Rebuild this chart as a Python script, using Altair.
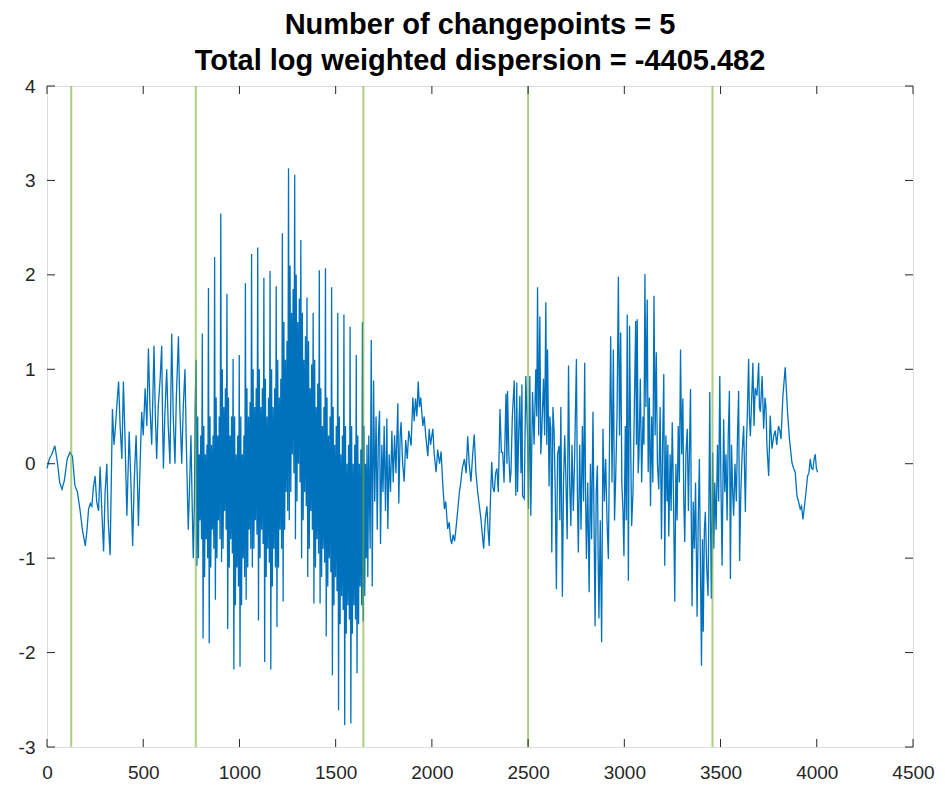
import altair as alt
import pandas as pd

title_lines = ["Number of changepoints = 5", "Total log weighted dispersion = -4405.482"]
changepoints = [126, 773, 1644, 2500, 3458]
x_ticks = [0, 500, 1000, 1500, 2000, 2500, 3000, 3500, 4000, 4500]
y_ticks = [-3, -2, -1, 0, 1, 2, 3, 4]

# segment A: quiet start (turning points)
seg_a_x = [0, 12, 25, 41, 55, 66, 78, 90, 105, 119, 132, 145, 158, 171, 184, 199, 208, 216, 225, 233,
           241, 250, 258, 268, 276, 285, 294, 302, 311, 318, 328, 340, 348, 356, 364, 372, 380, 389, 397, 405,
           415, 427, 436, 445, 453, 463, 470, 475, 484, 492, 500, 510, 519, 527, 535, 544, 550, 556, 563, 570,
           578, 588, 596, 601, 605, 612, 622, 630, 639, 644, 648, 656, 665, 672, 683, 690, 700, 708, 717, 724,
           734, 740, 748, 755, 760, 766, 770]
seg_a_y = [-0.05, 0.05, 0.1, 0.19, 0.0, -0.2, -0.27, -0.18, 0.05, 0.12, 0.08, -0.23, -0.3, -0.48, -0.7, -0.87, -0.7, -0.48, -0.42, -0.45,
           -0.25, -0.13, -0.4, -0.5, -0.03, -0.5, -0.93, -0.3, 0.0, -0.6, -0.97, 0.58, 0.2, 0.4, 0.65, 0.87, 0.4, 0.05, 0.87, 0.3,
           -0.55, 0.34, -0.2, -0.87, -0.2, 0.3, -0.2, -0.66, 0.0, 0.55, 0.3, 0.8, 0.4, 1.22, 0.6, 0.2, 0.7, 1.25, 0.5, 0.05,
           0.6, 0.9, 1.25, 0.4, -0.05, 0.5, 1.0, 0.4, 0.0, 0.8, 1.38, 0.5, 0.0, 0.7, 1.35, 0.6, 0.0, 0.6, 1.0, 0.2,
           -0.7, -0.3, 0.3, -0.5, -1.0, -0.4, 0.6]

# segment B: dense part, regularly sampled (8 samples per spike cycle)
dense_start = 775
dense_step = 4
dense_y = [
    1.1, -1.08, 0.5, -1.0, 0.1, -0.6, 0.3, -0.8,
    1.38, -1.85, 0.4, -1.2, 0.1, -0.8, 0.2, -1.0,
    1.86, -1.9, 0.5, -1.1, 0.2, -0.7, 0.3, -0.9,
    2.19, -1.44, 0.7, -1.0, 0.3, -0.6, 0.5, -0.8,
    2.65, -1.04, 1.0, -0.9, 0.6, -0.5, 0.8, -0.7,
    1.80, -1.75, 0.7, -1.1, 0.3, -0.8, 0.5, -0.95,
    1.11, -2.18, 0.5, -1.5, 0.1, -1.1, 0.3, -1.3,
    1.15, -2.15, 0.5, -1.5, 0.1, -1.0, 0.3, -1.2,
    1.91, -1.44, 0.8, -1.1, 0.5, -0.7, 0.65, -0.9,
    2.22, -1.1, 1.0, -0.9, 0.6, -0.6, 0.8, -0.75,
    2.29, -1.66, 1.0, -1.0, 0.6, -0.7, 0.8, -0.85,
    1.97, -2.1, 0.9, -1.2, 0.5, -0.9, 0.7, -1.05,
    2.04, -2.18, 1.0, -1.3, 0.6, -0.9, 0.8, -1.1,
    1.88, -1.73, 1.1, -1.1, 0.7, -0.7, 0.9, -0.9,
    2.44, -1.46, 1.5, -0.7, 1.1, -0.3, 1.3, -0.5,
    3.13, -0.6, 2.1, -0.3, 1.6, 0.1, 1.85, -0.1,
    3.06, -0.8, 2.0, -0.4, 1.5, 0.0, 1.75, -0.2,
    2.37, -1.0, 1.6, -0.6, 1.1, -0.3, 1.35, -0.45,
    1.76, -1.2, 1.3, -0.9, 0.8, -0.5, 1.05, -0.7,
    1.6, -1.48, 1.1, -1.1, 0.6, -0.8, 0.85, -0.95,
    2.05, -1.48, 0.8, -1.2, 0.4, -0.9, 0.6, -1.05,
    2.07, -1.83, 0.7, -1.3, 0.3, -1.0, 0.5, -1.15,
    1.87, -2.24, 0.6, -1.5, 0.2, -1.2, 0.4, -1.35,
    1.6, -2.61, 0.5, -1.7, 0.1, -1.4, 0.3, -1.55,
    1.58, -2.77, 0.4, -1.8, 0.0, -1.5, 0.2, -1.65,
    1.45, -2.75, 0.4, -1.8, 0.0, -1.5, 0.2, -1.65,
    1.15, -2.22, 0.3, -1.7, 0.0, -1.3, 0.15, -1.5,
    1.5, -1.67, 0.4, -1.4, 0.0, -1.0, 0.2, -1.2,
]

# segment C: rest of the signal (turning points)
seg_c_x = [1672, 1679, 1685, 1690, 1697, 1703, 1710, 1716, 1722, 1728, 1733, 1740, 1746, 1752, 1759, 1766, 1771, 1778, 1785, 1792,
           1799, 1806, 1813, 1823, 1828, 1835, 1840, 1848, 1856, 1864, 1872, 1880, 1892, 1901, 1908, 1915, 1922, 1929, 1935, 1942,
           1953, 1960, 1968, 1979, 1986, 1993, 2005, 2012, 2022, 2030, 2040, 2048, 2056, 2065, 2072, 2082, 2090, 2097, 2103, 2110,
           2118, 2125, 2134, 2143, 2150, 2158, 2169, 2178, 2186, 2194, 2203, 2212, 2220, 2229, 2238, 2247, 2255, 2262, 2269, 2277,
           2286, 2292, 2298, 2304, 2311, 2317, 2324, 2331, 2338, 2345, 2354, 2361, 2368, 2375, 2385, 2390, 2393, 2400, 2406, 2411,
           2418, 2428, 2436, 2441, 2445, 2452, 2457, 2463, 2468, 2471, 2480, 2488, 2497, 2502, 2509, 2514, 2523, 2531, 2540, 2545,
           2549, 2555, 2561, 2566, 2571, 2580, 2586, 2592, 2597, 2601, 2609, 2613, 2618, 2623, 2629, 2635, 2641, 2647, 2653, 2661,
           2665, 2670, 2678, 2684, 2690, 2696, 2703, 2710, 2716, 2722, 2728, 2735, 2742, 2751, 2756, 2761, 2768, 2775, 2782, 2788,
           2794, 2798, 2803, 2810, 2817, 2824, 2830, 2837, 2842, 2848, 2854, 2860, 2864, 2868, 2875, 2882, 2889, 2896, 2903, 2910,
           2917, 2923, 2929, 2936, 2943, 2949, 2955, 2962, 2969, 2975, 2981, 2987, 2993, 2998, 3005, 3010, 3015, 3021, 3027, 3033,
           3038, 3045, 3052, 3059, 3063, 3067, 3072, 3076, 3083, 3090, 3097, 3102, 3107, 3112, 3119, 3124, 3130, 3136, 3142, 3148,
           3154, 3160, 3166, 3172, 3179, 3186, 3193, 3199, 3205, 3210, 3216, 3222, 3226, 3231, 3238, 3243, 3249, 3255, 3262, 3268,
           3274, 3280, 3286, 3292, 3298, 3304, 3309, 3314, 3320, 3327, 3333, 3338, 3344, 3348, 3352, 3358, 3364, 3370, 3378, 3384,
           3390, 3395, 3401, 3406, 3410, 3416, 3421, 3428, 3435, 3440, 3444, 3448, 3452, 3459, 3465, 3470, 3477, 3484, 3490, 3496,
           3502, 3508, 3516, 3522, 3528, 3534, 3540, 3546, 3551, 3557, 3563, 3568, 3575, 3582, 3588, 3594, 3599, 3605, 3612, 3620,
           3629, 3634, 3638, 3646, 3650, 3655, 3662, 3668, 3674, 3680, 3689, 3698, 3702, 3707, 3716, 3724, 3731, 3736, 3741, 3750,
           3758, 3767, 3776, 3784, 3792, 3801, 3808, 3814, 3824, 3836, 3848, 3858, 3871, 3880, 3888, 3897, 3905, 3914, 3921, 3928,
           3936, 3944, 3952, 3959, 3966, 3973, 3980, 3986, 3992, 3998, 4004]
seg_c_y = [0.3, -0.9, 1.31, -1.3, 0.88, -0.4, 0.5, -0.7, 0.3, 0.56, -0.85, 0.2, -0.3, 0.4, -0.5, 0.48, -0.69, 0.1, -0.3, 0.35,
           -0.2, 0.3, -0.1, 0.64, -0.42, 0.3, 0.44, 0.0, -0.19, 0.25, 0.05, 0.35, 0.19, 0.7, 0.45, 0.69, 0.5, 0.87, 0.6, 0.7,
           0.4, 0.5, 0.3, 0.08, 0.37, 0.2, 0.37, 0.1, -0.09, 0.15, 0.0, 0.13, -0.2, -0.48, -0.4, -0.69, -0.62, -0.8, -0.85, -0.75,
           -0.82, -0.69, -0.5, -0.3, -0.2, -0.05, 0.05, -0.1, 0.29, 0.0, -0.19, 0.1, 0.31, -0.1, -0.3, -0.45, -0.59, -0.75, -0.9, -0.6,
           -0.45, -0.7, -0.87, -0.4, 0.02, -0.25, -0.3, -0.1, -0.05, -0.3, 0.58, 0.12, 0.12, -0.2, 0.74, 0.0, 0.77, 0.1, -0.2, -0.09,
           0.5, 0.88, -0.34, 0.86, -0.3, 0.4, 0.72, -0.1, 0.84, -0.34, -0.37, 0.93, 0.29, -0.48, 0.93, -0.55, 0.76, 0.2, 1.0, 0.5,
           1.87, 0.3, 1.56, 0.1, 0.34, 0.9, 0.3, 1.71, 0.2, 1.21, -0.24, 0.5, 0.37, -0.94, 0.6, 0.34, -0.3, -1.33, 0.1, 0.19,
           -0.6, 0.6, -1.41, -0.2, 0.3, -0.13, -0.8, 1.04, -0.2, -0.66, 0.2, -0.5, 0.1, 1.11, -0.3, -0.94, 0.2, -0.7, 0.4, -0.4,
           1.07, -0.2, -1.01, -0.2, -1.36, 0.0, -0.8, 0.55, -0.5, -1.72, -0.3, -0.02, -1.0, -1.64, -0.6, -1.89, 0.37, -0.4, 0.05, -0.6,
           -1.01, 0.2, 1.35, -0.2, 1.21, -0.6, -0.16, 0.5, 1.98, 0.3, 1.39, -0.2, -0.51, -0.98, 0.4, -0.6, 1.58, -1.24, 1.46, 0.2,
           -0.66, -0.3, 0.6, 1.51, 0.2, 1.53, -0.1, 0.08, 0.9, -0.2, 0.5, 0.2, 2.01, 0.6, 1.74, -0.09, 0.7, -0.45, 0.5, -0.2,
           1.78, 0.3, 1.18, 0.0, -0.27, 0.6, -0.8, 0.2, 0.95, -1.08, 0.3, -0.4, 0.2, -0.77, 0.1, -0.5, 0.44, -0.3, -1.46, 0.0,
           -0.6, 0.4, -0.2, 1.21, 0.1, 0.69, -0.4, -0.83, 0.1, 0.37, -0.5, 0.1, 0.79, -0.6, -1.51, -0.4, -0.9, -0.2, -1.62, -0.6,
           0.05, -1.0, -2.14, -0.8, -1.78, -0.7, -0.51, -1.1, -1.4, -0.3, 0.76, -0.6, -1.43, 0.12, -0.9, -0.2, -0.7, 0.2, -0.4, 0.93,
           -0.2, -1.08, 0.47, -0.3, 0.1, -0.6, 0.3, 0.77, -1.22, 0.2, -0.3, -0.55, 0.0, -0.4, 0.3, 0.77, -1.03, -0.34, 0.1, 0.4,
           -0.51, 0.2, 0.44, 1.11, 0.5, 0.29, 0.7, 1.07, 0.4, 0.8, 0.72, 1.07, 0.6, 0.55, 0.93, 0.37, 0.7, 0.6, 0.19, -0.13,
           0.51, 0.16, 0.29, 0.35, 0.2, 0.4, 0.35, 0.26, 0.72, 1.02, 0.55, 0.26, 0.01, -0.05, -0.09, -0.34, -0.4, -0.48, -0.45, -0.59,
           -0.45, -0.3, -0.13, -0.1, 0.05, -0.05, -0.06, 0.05, 0.1, -0.05, -0.09]

dense_x = [dense_start + i * dense_step for i in range(len(dense_y))]
signal = pd.DataFrame({
    "t": seg_a_x + dense_x + seg_c_x,
    "v": seg_a_y + dense_y + seg_c_y,
})

W, H = 866, 661
AX = "#262626"
FONT = "Liberation Sans"

xs = alt.Scale(domain=[0, 4500], nice=False, zero=False)
ys = alt.Scale(domain=[-3, 4], nice=False, zero=False)
xaxis = alt.Axis(values=x_ticks, title=None, grid=False, domain=False, ticks=False,
                 labelFontSize=19, labelColor=AX, labelFont=FONT, labelPadding=16, labelFlush=False,
                 labelExpr="'' + datum.value")
yaxis = alt.Axis(values=y_ticks, title=None, grid=False, domain=False, ticks=False,
                 labelFontSize=19, labelColor=AX, labelFont=FONT, labelPadding=12,
                 labelExpr="'' + datum.value")

line = alt.Chart(signal).mark_line(color="#0072BD", strokeWidth=1.3).encode(
    x=alt.X("t:Q", scale=xs, axis=xaxis),
    y=alt.Y("v:Q", scale=ys, axis=yaxis),
    order="t:Q",
)

cps = alt.Chart(pd.DataFrame({"c": changepoints})).mark_rule(color="#77AC30", strokeWidth=2, opacity=0.6).encode(
    x=alt.X("c:Q", scale=xs, axis=xaxis)
)

xt = pd.DataFrame({"x": x_ticks})
yt = pd.DataFrame({"y": y_ticks})
TL = 8
bt = alt.Chart(xt).mark_rule(color=AX, strokeWidth=1).encode(
    x=alt.X("x:Q", scale=xs, axis=xaxis), y=alt.value(H), y2=alt.value(H - TL))
tt = alt.Chart(xt).mark_rule(color=AX, strokeWidth=1).encode(
    x=alt.X("x:Q", scale=xs, axis=xaxis), y=alt.value(0), y2=alt.value(TL))
lt = alt.Chart(yt).mark_rule(color=AX, strokeWidth=1).encode(
    y=alt.Y("y:Q", scale=ys, axis=yaxis), x=alt.value(0), x2=alt.value(TL))
rt = alt.Chart(yt).mark_rule(color=AX, strokeWidth=1).encode(
    y=alt.Y("y:Q", scale=ys, axis=yaxis), x=alt.value(W), x2=alt.value(W - TL))

chart = alt.layer(line, cps, bt, tt, lt, rt).properties(
    width=W, height=H,
    title=alt.TitleParams(text=title_lines, fontSize=29, fontWeight="bold", font=FONT, color="#000000",
                          anchor="middle", lineHeight=36, offset=1),
    padding={"left": 39, "top": 78, "right": 24, "bottom": 42},
    autosize="none",
).configure_view(stroke=AX, strokeWidth=1).configure(background="white")

chart.save("out.html", embed_options={"renderer": "svg", "actions": False})
